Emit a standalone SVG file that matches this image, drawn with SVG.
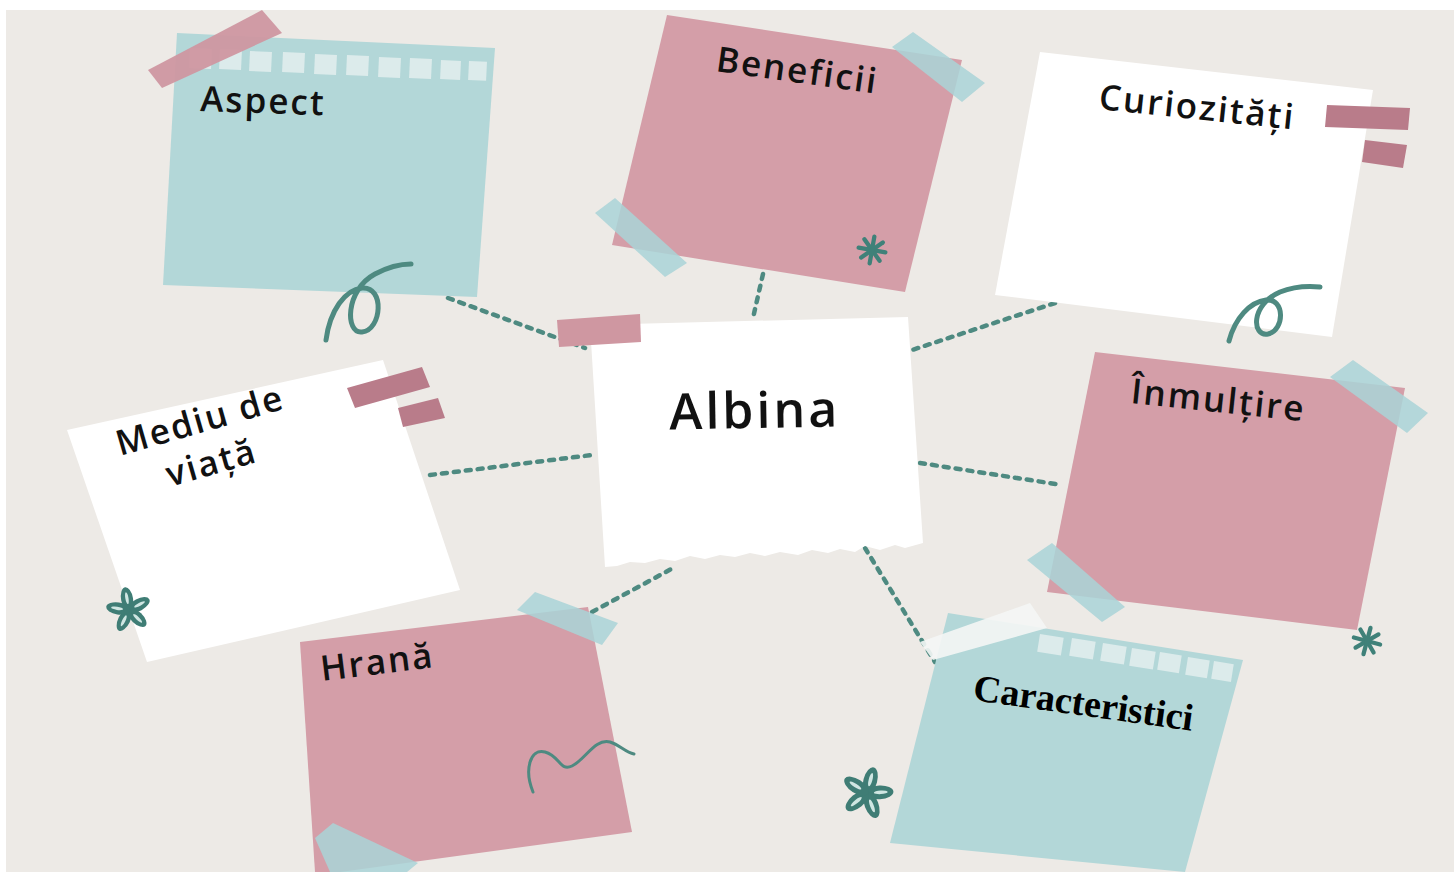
<svg xmlns="http://www.w3.org/2000/svg" width="1454" height="872" viewBox="0 0 1454 872">
<defs>
<style>
.teal{fill:#b3d7d8}
.pink{fill:#d49ea8}
.white{fill:#ffffff}
.ttape{fill:#a9d3d7;opacity:0.85}
.ptape{fill:#b97c8a}
.sq{fill:#dcebeb}
.lbl{font-family:"Open Sans","Noto Sans",sans-serif;font-size:35px;fill:#111;font-weight:600;letter-spacing:2px}
.ser{font-family:"Liberation Serif","DejaVu Serif",serif;font-size:38px;fill:#000;font-weight:bold}
.dots{fill:none;stroke:#4e8a81;stroke-width:4.5;stroke-linecap:round;stroke-dasharray:5 7}
.curl{fill:none;stroke:#4e8a81;stroke-width:5;stroke-linecap:round}
.ast{stroke:#3f8179;stroke-width:5;stroke-linecap:round}
</style>
<g id="flower">
<g fill="#3f7d75">
<ellipse cx="0" cy="-11" rx="6" ry="12"/>
<ellipse cx="0" cy="-11" rx="6" ry="12" transform="rotate(72)"/>
<ellipse cx="0" cy="-11" rx="6" ry="12" transform="rotate(144)"/>
<ellipse cx="0" cy="-11" rx="6" ry="12" transform="rotate(216)"/>
<ellipse cx="0" cy="-11" rx="6" ry="12" transform="rotate(288)"/>
</g>
<g fill="#cfe6e2">
<ellipse cx="0" cy="-12" rx="1.6" ry="6"/>
<ellipse cx="0" cy="-12" rx="1.6" ry="6" transform="rotate(72)"/>
<ellipse cx="0" cy="-12" rx="1.6" ry="6" transform="rotate(144)"/>
<ellipse cx="0" cy="-12" rx="1.6" ry="6" transform="rotate(216)"/>
<ellipse cx="0" cy="-12" rx="1.6" ry="6" transform="rotate(288)"/>
</g>
</g>
<g id="asterisk">
<line class="ast" x1="-16" y1="0" x2="16" y2="0"/>
<line class="ast" x1="-11" y1="-11" x2="11" y2="11"/>
<line class="ast" x1="-11" y1="11" x2="11" y2="-11"/>
<line class="ast" x1="0" y1="-16" x2="0" y2="16"/>
</g>
</defs>

<rect x="0" y="0" width="1454" height="872" fill="#ffffff"/>
<rect x="6" y="10" width="1448" height="862" fill="#edeae6"/>

<g id="connectors">
<path class="dots" d="M448,298 L585,348"/>
<path class="dots" d="M763,274 L753,318"/>
<path class="dots" d="M1055,303 L912,350"/>
<path class="dots" d="M430,475 L592,455"/>
<path class="dots" d="M920,463 L1062,485"/>
<path class="dots" d="M592,612 L675,567"/>
<path class="dots" d="M865,548 L935,662"/>
</g>

<g id="aspect">
<polygon class="teal" points="177,33 495,48 477,297 163,285"/>
<g class="sq">
<rect x="190" y="48" width="22" height="20" transform="rotate(2.7 190 48)"/>
<rect x="220" y="49" width="22" height="20" transform="rotate(2.7 220 49)"/>
<rect x="250" y="51" width="22" height="20" transform="rotate(2.7 250 51)"/>
<rect x="283" y="52" width="22" height="20" transform="rotate(2.7 283 52)"/>
<rect x="315" y="54" width="22" height="20" transform="rotate(2.7 315 54)"/>
<rect x="347" y="55" width="22" height="20" transform="rotate(2.7 347 55)"/>
<rect x="379" y="57" width="22" height="20" transform="rotate(2.7 379 57)"/>
<rect x="410" y="58" width="22" height="20" transform="rotate(2.7 410 58)"/>
<rect x="441" y="60" width="20" height="19" transform="rotate(2.7 441 60)"/>
<rect x="469" y="61" width="18" height="19" transform="rotate(2.7 469 61)"/>
</g>
<polygon fill="#cf97a1" opacity="0.95" points="148,70 262,10 282,33 162,88"/>
<text class="lbl" x="200" y="111" transform="rotate(2 200 111)">Aspect</text>
<path class="curl" d="M326,340 C330,310 345,290 362,288 C385,286 382,330 362,332 C345,334 345,290 375,274 C390,266 402,264 411,264"/>
</g>

<g id="beneficii">
<polygon class="pink" points="667,15 962,60 905,292 612,245"/>
<polygon class="ttape" points="892,47 913,32 985,83 962,102"/>
<polygon class="ttape" points="595,213 615,198 687,263 665,277"/>
<text class="lbl" x="715" y="71" transform="rotate(8 715 71)">Beneficii</text>
<use href="#asterisk" transform="translate(872,250) rotate(10) scale(0.85)"/>
</g>

<g id="curiozitati">
<polygon class="white" points="1040,52 1373,90 1332,337 995,295"/>
<polygon class="ptape" points="1327,105 1410,108 1408,130 1325,127"/>
<polygon class="ptape" points="1365,140 1407,145 1403,168 1362,162"/>
<text class="lbl" x="1098" y="109" transform="rotate(6 1098 109)">Curiozități</text>
<path class="curl" d="M1229,341 C1235,318 1250,302 1266,300 C1285,298 1285,330 1268,334 C1252,337 1250,305 1280,292 C1295,286 1310,286 1320,287"/>
</g>

<g id="mediu">
<polygon class="white" points="67,430 383,360 460,590 147,662"/>
<polygon class="ptape" points="347,388 422,367 430,387 355,408"/>
<polygon class="ptape" points="398,408 438,398 445,418 403,427"/>
<text class="lbl" transform="translate(120,456) rotate(-16)">Mediu de</text>
<text class="lbl" transform="translate(170,487) rotate(-16)">viață</text>
<use href="#flower" transform="translate(129,610) rotate(-10)"/>
</g>

<g id="albina">
<path class="white" d="M590,325 L908,317 L923,543 L905,548 L895,545 L880,550 L865,546 L855,552 L840,549 L828,553 L812,550 L798,555 L780,552 L765,556 L750,553 L735,557 L720,555 L705,559 L690,556 L675,561 L660,559 L645,563 L630,562 L617,566 L605,567 Z"/>
<polygon fill="#cf97a1" points="557,320 640,314 641,342 559,347"/>
<text class="lbl" x="755" y="428" text-anchor="middle" style="font-size:50px;letter-spacing:3px" transform="rotate(-1 755 428)">Albina</text>
</g>

<g id="inmultire">
<polygon class="pink" points="1095,352 1405,388 1357,630 1047,592"/>
<polygon class="ttape" points="1330,377 1353,360 1428,413 1407,433"/>
<polygon class="ttape" points="1027,560 1052,543 1125,607 1102,622"/>
<text class="lbl" x="1130" y="403" transform="rotate(6 1130 403)">Înmulțire</text>
<use href="#asterisk" transform="translate(1367,641) rotate(15) scale(0.85)"/>
</g>

<g id="hrana">
<polygon class="pink" points="300,642 588,607 632,832 340,872 315,872"/>
<polygon class="ttape" points="517,610 535,592 618,623 602,645"/>
<polygon class="ttape" points="315,838 333,823 418,863 407,872 330,872"/>
<text class="lbl" x="322" y="681" transform="rotate(-7 322 681)">Hrană</text>
<path fill="none" stroke="#4e8a81" stroke-width="3" stroke-linecap="round" d="M533,792 C524,770 530,748 545,752 C560,756 560,772 572,766 C585,760 595,738 610,742 C620,745 625,752 634,754"/>
</g>

<g id="caracteristici">
<polygon class="teal" points="948,613 1243,660 1185,872 890,843"/>
<g class="sq">
<rect x="1040" y="634" width="24" height="18" transform="rotate(9 1040 634)"/>
<rect x="1072" y="638" width="24" height="18" transform="rotate(9 1072 638)"/>
<rect x="1103" y="643" width="24" height="18" transform="rotate(9 1103 643)"/>
<rect x="1132" y="648" width="24" height="18" transform="rotate(9 1132 648)"/>
<rect x="1160" y="652" width="22" height="18" transform="rotate(9 1160 652)"/>
<rect x="1188" y="657" width="22" height="18" transform="rotate(9 1188 657)"/>
<rect x="1214" y="661" width="20" height="18" transform="rotate(9 1214 661)"/>
</g>
<polygon fill="#f4f6f5" opacity="0.9" points="920,642 1030,603 1047,628 933,660"/>
<text class="ser" x="972" y="700" transform="rotate(8 972 700)">Caracteristici</text>
<use href="#flower" transform="translate(867,793) rotate(15) scale(1.15)"/>
</g>
</svg>
